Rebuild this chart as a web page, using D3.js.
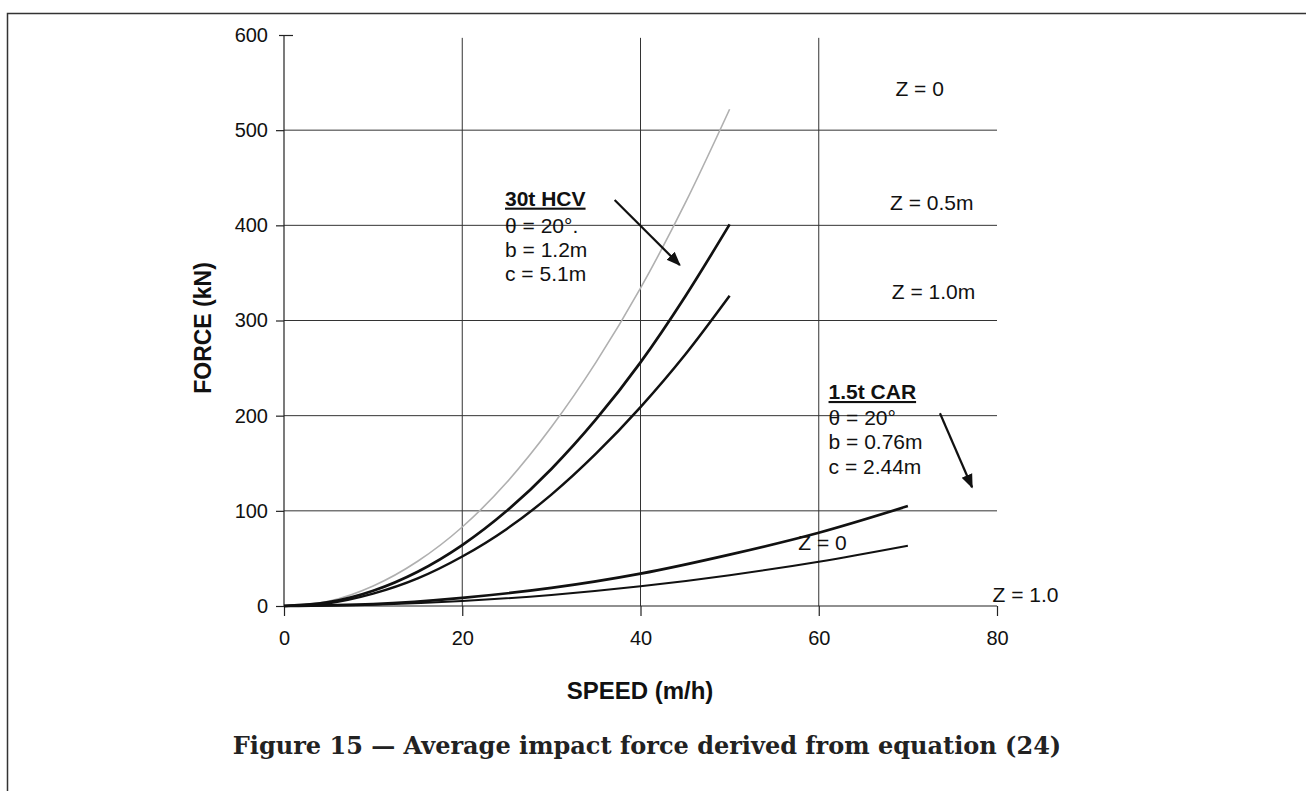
<!DOCTYPE html>
<html>
<head>
<meta charset="utf-8">
<script src="https://cdn.jsdelivr.net/npm/d3@7"></script>
<style>
  body { margin: 0; background: #fff; }
  svg { display: block; }
  .tick text { font-family: "Liberation Sans", Arial, sans-serif; }
</style>
</head>
<body>
<div id="chart"></div>
<script>
// speeds (m/h) and forces (kN)
let hcvSpeed = [0, 5, 10, 15, 20, 25, 30, 35, 40, 45, 50]
let hcvZ0 = [0, 5, 21, 47, 83, 130, 188, 256, 334, 423, 522]
let hcvZ05 = [0, 4, 16, 36, 64, 100, 144, 196, 256, 325, 401]
let hcvZ10 = [0, 3, 13, 29, 52, 81, 117, 160, 209, 264, 326]

let carSpeed = [0, 10, 20, 30, 40, 50, 60, 70]
let carZ0 = [0, 2, 8.6, 19, 34, 54, 77, 105]
let carZ10 = [0, 1.3, 5.2, 11.6, 20.7, 32.4, 46.6, 63.4]

let xTicks = [0, 20, 40, 60, 80]
let yTicks = [0, 100, 200, 300, 400, 500, 600]

let width = 1306
let height = 791

let svg = d3.select('#chart')
  .append('svg')
  .attr('width', width)
  .attr('height', height)

// page frame (top and left edge only)
svg.append('path')
  .attr('d', 'M7.5,791 V13.5 H1306')
  .attr('fill', 'none')
  .attr('stroke', '#333')
  .attr('stroke-width', 1.5)

let x = d3.scaleLinear().domain([0, 80]).range([284, 997])
let y = d3.scaleLinear().domain([0, 600]).range([606, 35])

// grid
svg.append('g').selectAll('line')
  .data(yTicks.slice(1, 6))
  .enter()
  .append('line')
  .attr('x1', x(0)).attr('x2', x(80))
  .attr('y1', d => y(d)).attr('y2', d => y(d))
  .attr('stroke', '#333').attr('stroke-width', 1)

svg.append('g').selectAll('line')
  .data([20, 40, 60])
  .enter()
  .append('line')
  .attr('x1', d => x(d)).attr('x2', d => x(d))
  .attr('y1', y(597)).attr('y2', y(0))
  .attr('stroke', '#333').attr('stroke-width', 1)

// axes
let xAxis = svg.append('g')
  .attr('transform', `translate(0,${y(0)})`)
  .call(d3.axisBottom(x).tickValues(xTicks).tickSize(10).tickPadding(15))
let yAxis = svg.append('g')
  .attr('transform', `translate(${x(0)},0)`)
  .call(d3.axisLeft(y).tickValues(yTicks).tickSize(8).tickPadding(8))

;[xAxis, yAxis].forEach(a => {
  a.select('.domain').attr('stroke', '#222').attr('stroke-width', 1.2)
  a.selectAll('.tick line').attr('stroke', '#222').attr('stroke-width', 1.2)
  a.selectAll('.tick text').attr('font-size', 20).attr('fill', '#111')
})
xAxis.select('.domain').attr('d', `M${x(0)},0H${x(80)}`)
yAxis.select('.domain').attr('d', `M0,${y(0)}V${y(600)}`)
yAxis.selectAll('.tick').filter(d => d === 600).select('line').attr('x2', -5).attr('x1', 9)

// curves
let line = d3.line()
  .x(d => x(d[0]))
  .y(d => y(d[1]))
  .curve(d3.curveMonotoneX)

let series = [
  { speed: hcvSpeed, force: hcvZ0, color: '#b0b0b0', w: 1.6 },
  { speed: hcvSpeed, force: hcvZ05, color: '#111', w: 2.7 },
  { speed: hcvSpeed, force: hcvZ10, color: '#111', w: 2.5 },
  { speed: carSpeed, force: carZ0, color: '#111', w: 2.7 },
  { speed: carSpeed, force: carZ10, color: '#111', w: 2 }
]

svg.append('g').selectAll('path')
  .data(series)
  .enter()
  .append('path')
  .attr('d', d => line(d.speed.map((s, i) => [s, d.force[i]])))
  .attr('fill', 'none')
  .attr('stroke', d => d.color)
  .attr('stroke-width', d => d.w)

// labels placed in data units
let labels = [
  { t: 'Z = 0', sx: 68.6, f: 536 },
  { t: 'Z = 0.5m', sx: 68.0, f: 416 },
  { t: 'Z = 1.0m', sx: 68.2, f: 323 },
  { t: '30t HCV', sx: 24.8, f: 420.7, bold: true },
  { t: 'θ = 20°.', sx: 24.8, f: 392 },
  { t: 'b = 1.2m', sx: 24.8, f: 367 },
  { t: 'c = 5.1m', sx: 24.8, f: 341 },
  { t: '1.5t CAR', sx: 61.1, f: 217.5, bold: true },
  { t: 'θ = 20°', sx: 61.1, f: 190 },
  { t: 'b = 0.76m', sx: 61.1, f: 164.7 },
  { t: 'c = 2.44m', sx: 61.1, f: 138.7 },
  { t: 'Z = 0', sx: 57.7, f: 58.9 },
  { t: 'Z = 1.0', sx: 79.5, f: 4.5 }
]

svg.append('g').selectAll('text')
  .data(labels)
  .enter()
  .append('text')
  .attr('x', d => x(d.sx))
  .attr('y', d => y(d.f))
  .attr('font-family', '"Liberation Sans", Arial, sans-serif')
  .attr('font-size', 21)
  .attr('font-weight', d => d.bold ? 'bold' : 'normal')
  .attr('text-decoration', d => d.bold ? 'underline' : 'none')
  .attr('fill', '#111')
  .text(d => d.t)

// arrows
svg.append('defs').append('marker')
  .attr('id', 'head')
  .attr('viewBox', '0 0 10 10')
  .attr('refX', 9).attr('refY', 5)
  .attr('markerWidth', 6.5).attr('markerHeight', 6.5)
  .attr('markerUnits', 'strokeWidth')
  .attr('orient', 'auto')
  .append('path')
  .attr('d', 'M0,1 L10,5 L0,9 z')
  .attr('fill', '#111')

let arrows = [
  [[37.1, 426.7], [44.4, 358.4]],
  [[73.6, 202.5], [77.2, 124.8]]
]

svg.append('g').selectAll('line')
  .data(arrows)
  .enter()
  .append('line')
  .attr('x1', d => x(d[0][0])).attr('y1', d => y(d[0][1]))
  .attr('x2', d => x(d[1][0])).attr('y2', d => y(d[1][1]))
  .attr('stroke', '#111')
  .attr('stroke-width', 2.2)
  .attr('marker-end', 'url(#head)')

// axis titles
svg.append('text')
  .attr('transform', 'translate(211,328) rotate(-90)')
  .attr('text-anchor', 'middle')
  .attr('font-family', '"Liberation Sans", Arial, sans-serif')
  .attr('font-weight', 'bold')
  .attr('font-size', 23)
  .attr('fill', '#111')
  .text('FORCE (kN)')

svg.append('text')
  .attr('x', 640).attr('y', 699)
  .attr('text-anchor', 'middle')
  .attr('font-family', '"Liberation Sans", Arial, sans-serif')
  .attr('font-weight', 'bold')
  .attr('font-size', 24)
  .attr('fill', '#111')
  .text('SPEED (m/h)')

svg.append('text')
  .attr('x', 647).attr('y', 754)
  .attr('text-anchor', 'middle')
  .attr('font-family', '"DejaVu Serif", serif')
  .attr('font-weight', 'bold')
  .attr('font-size', 24)
  .attr('fill', '#222')
  .text('Figure 15 — Average impact force derived from equation (24)')
</script>
</body>
</html>
